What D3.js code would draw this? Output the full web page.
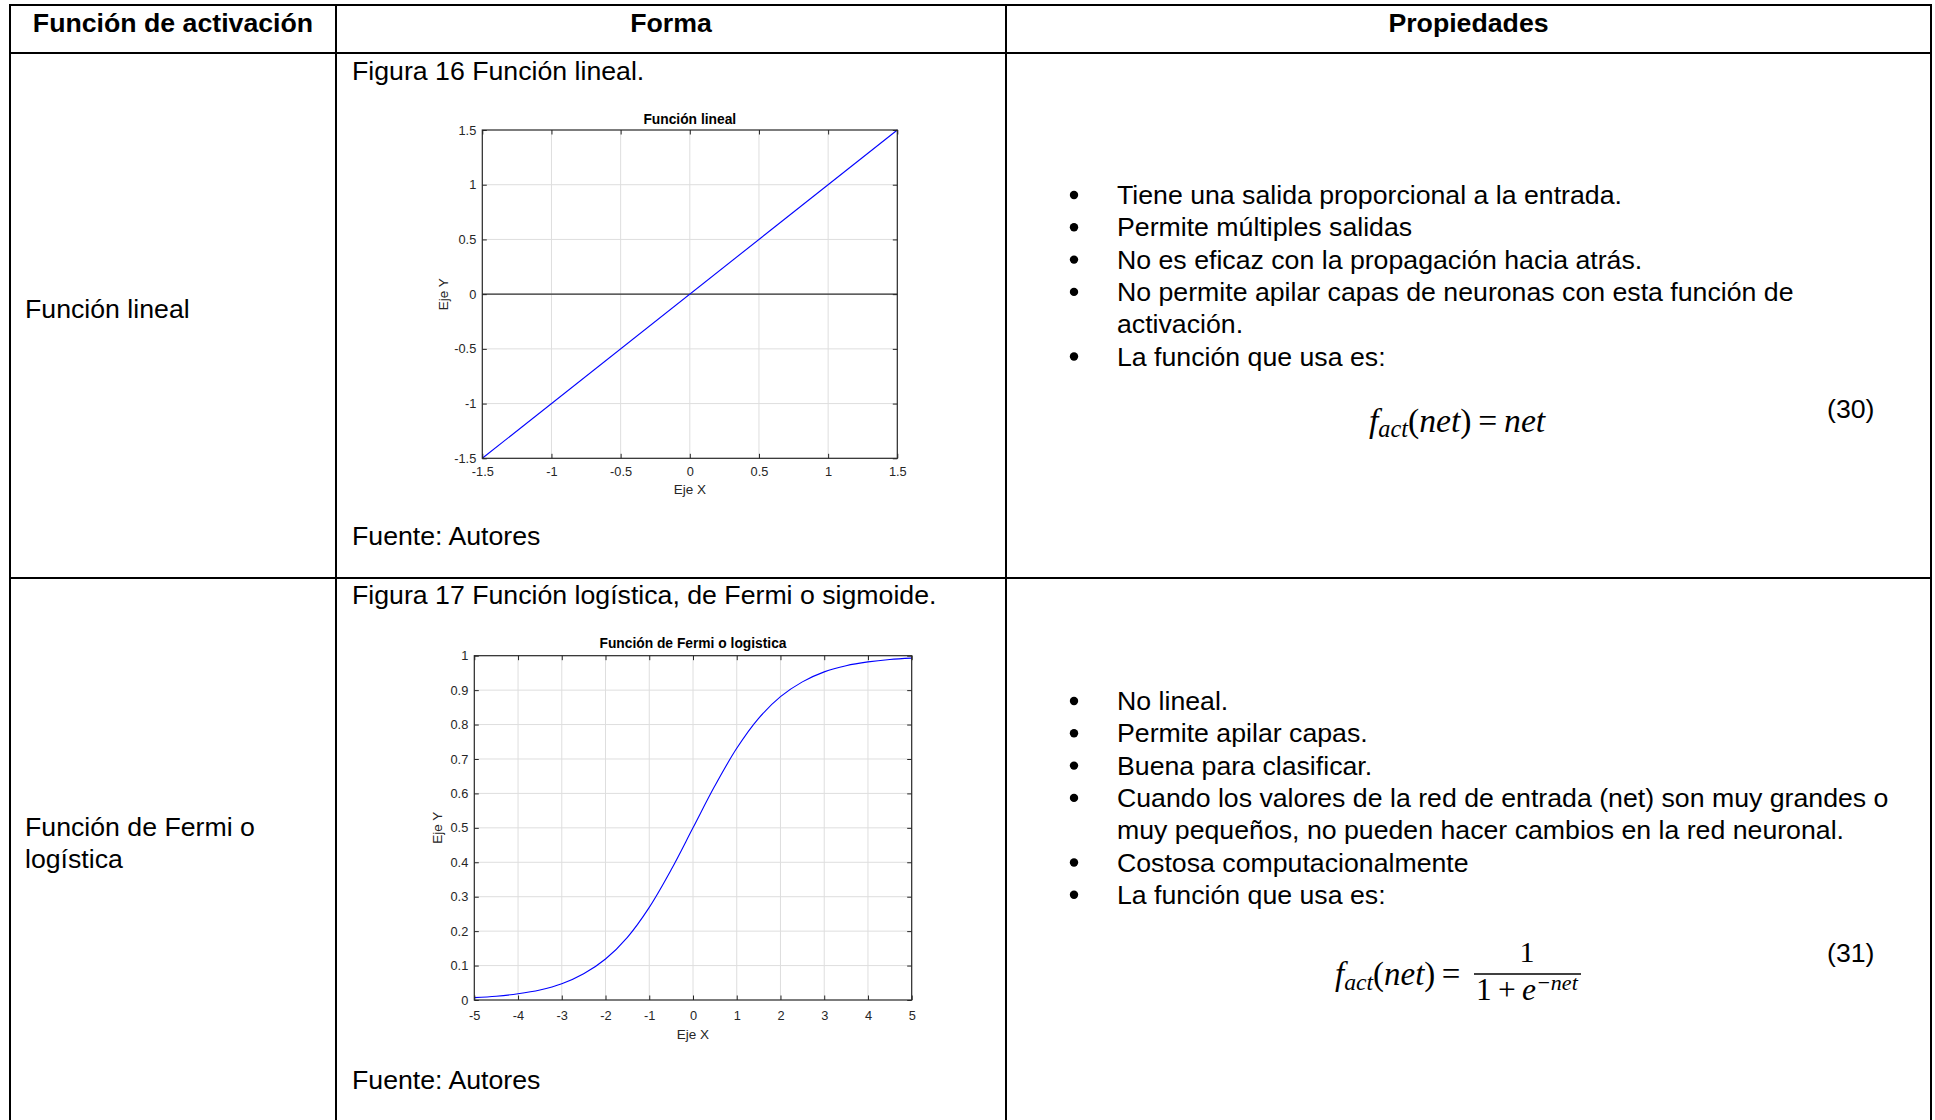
<!DOCTYPE html>
<html><head><meta charset="utf-8">
<script src="https://cdn.jsdelivr.net/npm/d3@7"></script>
<style>body{margin:0;background:#fff} svg{display:block}</style>
</head><body>
<svg id="c" width="1935" height="1120"></svg>
<script>
// ---------- Data ----------
const headers = ["Función de activación", "Forma", "Propiedades"];
const rowNames = [["Función lineal"], ["Función de Fermi o", "logística"]];
const captions = ["Figura 16 Función lineal.", "Figura 17 Función logística, de Fermi o sigmoide."];
const sources = ["Fuente: Autores", "Fuente: Autores"];
const props1 = [
  ["Tiene una salida proporcional a la entrada."],
  ["Permite múltiples salidas"],
  ["No es eficaz con la propagación hacia atrás."],
  ["No permite apilar capas de neuronas con esta función de", "activación."],
  ["La función que usa es:"]
];
const props2 = [
  ["No lineal."],
  ["Permite apilar capas."],
  ["Buena para clasificar."],
  ["Cuando los valores de la red de entrada (net) son muy grandes o", "muy pequeños, no pueden hacer cambios en la red neuronal."],
  ["Costosa computacionalmente"],
  ["La función que usa es:"]
];
const eqNumbers = ["(30)", "(31)"];

// Chart 1: linear
const linTitle = "Función lineal";
const linX = [-1.5, 1.5];
const linY = [-1.5, 1.5];
const linZeroX = [-1.5, 1.5];
const linZeroY = [0, 0];
const linXTicks = [-1.5, -1, -0.5, 0, 0.5, 1, 1.5];
const linYTicks = [-1.5, -1, -0.5, 0, 0.5, 1, 1.5];

// Chart 2: logistic
const sigTitle = "Función de Fermi o logistica";
const sigX = [-5, -4.5, -4, -3.5, -3, -2.5, -2, -1.5, -1, -0.5, 0, 0.5, 1, 1.5, 2, 2.5, 3, 3.5, 4, 4.5, 5];
const sigY = [0.007, 0.011, 0.018, 0.029, 0.047, 0.076, 0.119, 0.182, 0.269, 0.378, 0.5, 0.622, 0.731, 0.818, 0.881, 0.924, 0.953, 0.971, 0.982, 0.989, 0.993];
const sigXTicks = [-5, -4, -3, -2, -1, 0, 1, 2, 3, 4, 5];
const sigYTicks = [0, 0.1, 0.2, 0.3, 0.4, 0.5, 0.6, 0.7, 0.8, 0.9, 1];
const axisLabels = ["Eje X", "Eje Y"];

// ---------- Drawing ----------
const svg = d3.select("#c");
const SANS = "'Liberation Sans', Arial, Helvetica, sans-serif";
const SERIF = "'Liberation Serif', 'Times New Roman', serif";
const FS = 26.7;
const LH = 32.3;

// table grid
const colX = [10, 336, 1006, 1931];
const rowY = [5, 53, 578, 1125];
const tg = svg.append("g").attr("stroke", "#000").attr("stroke-width", 2);
colX.forEach(x => tg.append("line").attr("x1", x).attr("x2", x).attr("y1", rowY[0] - 1).attr("y2", 1120));
rowY.slice(0, 3).forEach(y => tg.append("line").attr("x1", colX[0] - 1).attr("x2", colX[3] + 1).attr("y1", y).attr("y2", y));

function txt(x, y, s, opt = {}) {
  return svg.append("text").attr("x", x).attr("y", y).text(s)
    .attr("font-family", opt.family || SANS).attr("font-size", opt.size || FS)
    .attr("font-weight", opt.weight || "normal").attr("fill", opt.fill || "#000")
    .attr("text-anchor", opt.anchor || "start");
}

headers.forEach((h, i) => txt((colX[i] + colX[i + 1]) / 2, 32, h, {weight: "bold", anchor: "middle"}));
rowNames[0].forEach((s, i) => txt(25, 318 + i * LH, s));
rowNames[1].forEach((s, i) => txt(25, 836 + i * LH, s));
txt(352, 80, captions[0]);
txt(352, 545, sources[0]);
txt(352, 604, captions[1]);
txt(352, 1089, sources[1]);

function bullets(list, y0) {
  let y = y0;
  list.forEach(item => {
    svg.append("circle").attr("cx", 1074).attr("cy", y - 9).attr("r", 4.2).attr("fill", "#000");
    item.forEach(line => { txt(1117, y, line); y += LH; });
  });
}
bullets(props1, 204);
bullets(props2, 710);

txt(1827, 418, eqNumbers[0]);
txt(1827, 962, eqNumbers[1]);

// equations
function fitText(sel, targetW) {
  const w = sel.node().getBBox().width;
  const fs = +sel.attr("font-size");
  sel.attr("font-size", fs * targetW / w);
}
function fAct(x, y, size) {
  const t = svg.append("text").attr("x", x).attr("y", y).attr("font-family", SERIF).attr("font-size", size).attr("fill", "#000");
  t.append("tspan").attr("font-style", "italic").text("f");
  t.append("tspan").attr("font-style", "italic").attr("font-size", "0.72em").attr("dy", "0.22em").text("act");
  t.append("tspan").attr("dy", "-0.16em").text("(");
  t.append("tspan").attr("font-style", "italic").text("net");
  t.append("tspan").text(")\u2009=\u2009");
  return t;
}
const eq1 = fAct(1369, 432, 30);
eq1.append("tspan").attr("font-style", "italic").text("net");
fitText(eq1, 177);

const eq2 = fAct(1335, 985, 30);
fitText(eq2, 132);
svg.append("line").attr("x1", 1474).attr("x2", 1581).attr("y1", 974).attr("y2", 974).attr("stroke", "#000").attr("stroke-width", 1.6);
svg.append("text").attr("x", 1527).attr("y", 962).attr("text-anchor", "middle").attr("font-family", SERIF).attr("font-size", 30).text("1");
const den = svg.append("text").attr("x", 1476).attr("y", 1000).attr("font-family", SERIF).attr("font-size", 30);
den.append("tspan").text("1\u2009+\u2009");
den.append("tspan").attr("font-style", "italic").text("e");
den.append("tspan").attr("font-style", "italic").attr("font-size", "0.7em").attr("dy", "-0.45em").text("\u2212net");
fitText(den, 103);

// charts
function drawChart(c) {
  const g = svg.append("g");
  const x = d3.scaleLinear().domain(c.xDomain).range([c.left, c.right]);
  const y = d3.scaleLinear().domain(c.yDomain).range([c.bottom, c.top]);
  const AX = "#262626", GRID = "#dedede", TL = 4.5;
  g.selectAll(".gx").data(c.xTicks.slice(1, -1)).join("line")
    .attr("x1", d => x(d)).attr("x2", d => x(d)).attr("y1", c.top).attr("y2", c.bottom)
    .attr("stroke", GRID).attr("stroke-width", 1);
  g.selectAll(".gy").data(c.yTicks.slice(1, -1)).join("line")
    .attr("y1", d => y(d)).attr("y2", d => y(d)).attr("x1", c.left).attr("x2", c.right)
    .attr("stroke", GRID).attr("stroke-width", 1);
  if (c.extra) {
    const pts = c.extra.x.map((v, i) => [v, c.extra.y[i]]);
    g.append("path").attr("d", d3.line().x(d => x(d[0])).y(d => y(d[1]))(pts))
      .attr("fill", "none").attr("stroke", "#303030").attr("stroke-width", 1.4);
  }
  const pts = c.dx.map((v, i) => [v, c.dy[i]]);
  g.append("path").attr("d", d3.line().curve(d3.curveCatmullRom).x(d => x(d[0])).y(d => y(d[1]))(pts))
    .attr("fill", "none").attr("stroke", "#0000ff").attr("stroke-width", 1.1);
  const fmt = d => String(d);
  const style = a => {
    a.select(".domain").remove();
    a.selectAll("line").attr("stroke", AX);
    a.selectAll("text").attr("fill", AX).attr("font-family", SANS).attr("font-size", 12.8);
  };
  g.append("g").attr("transform", `translate(0,${c.bottom})`)
    .call(d3.axisBottom(x).tickValues(c.xTicks).tickSize(-TL).tickPadding(c.xPad).tickFormat(fmt)).call(style);
  g.append("g").attr("transform", `translate(0,${c.top})`)
    .call(d3.axisTop(x).tickValues(c.xTicks).tickSize(-TL).tickFormat("")).call(style);
  g.append("g").attr("transform", `translate(${c.left},0)`)
    .call(d3.axisLeft(y).tickValues(c.yTicks).tickSize(-TL).tickPadding(6).tickFormat(fmt)).call(style);
  g.append("g").attr("transform", `translate(${c.right},0)`)
    .call(d3.axisRight(y).tickValues(c.yTicks).tickSize(-TL).tickFormat("")).call(style);
  g.append("rect").attr("x", c.left).attr("y", c.top).attr("width", c.right - c.left).attr("height", c.bottom - c.top)
    .attr("fill", "none").attr("stroke", AX).attr("stroke-width", 1.2);
  g.append("text").attr("x", (c.left + c.right) / 2).attr("y", c.titleY).attr("text-anchor", "middle")
    .attr("font-family", SANS).attr("font-weight", "bold").attr("font-size", 13.8).attr("fill", "#000").text(c.title);
  g.append("text").attr("x", (c.left + c.right) / 2).attr("y", c.xLabelY).attr("text-anchor", "middle")
    .attr("font-family", SANS).attr("font-size", 13.5).attr("fill", AX).text(axisLabels[0]);
  g.append("text").attr("transform", `translate(${c.yLabelX},${(c.top + c.bottom) / 2}) rotate(-90)`).attr("text-anchor", "middle")
    .attr("font-family", SANS).attr("font-size", 13.5).attr("fill", AX).text(axisLabels[1]);
}

drawChart({
  left: 482.3, right: 897.3, top: 130, bottom: 458.3,
  xDomain: [-1.5, 1.5], yDomain: [-1.5, 1.5],
  xTicks: linXTicks, yTicks: linYTicks, dx: linX, dy: linY,
  extra: {x: linZeroX, y: linZeroY},
  title: linTitle, titleY: 124, xLabelY: 494, yLabelX: 448, xPad: 8.5
});
drawChart({
  left: 474.3, right: 911.7, top: 655.7, bottom: 1000,
  xDomain: [-5, 5], yDomain: [0, 1],
  xTicks: sigXTicks, yTicks: sigYTicks, dx: sigX, dy: sigY,
  title: sigTitle, titleY: 648.3, xLabelY: 1039, yLabelX: 441.7, xPad: 11
});
</script>
</body></html>
